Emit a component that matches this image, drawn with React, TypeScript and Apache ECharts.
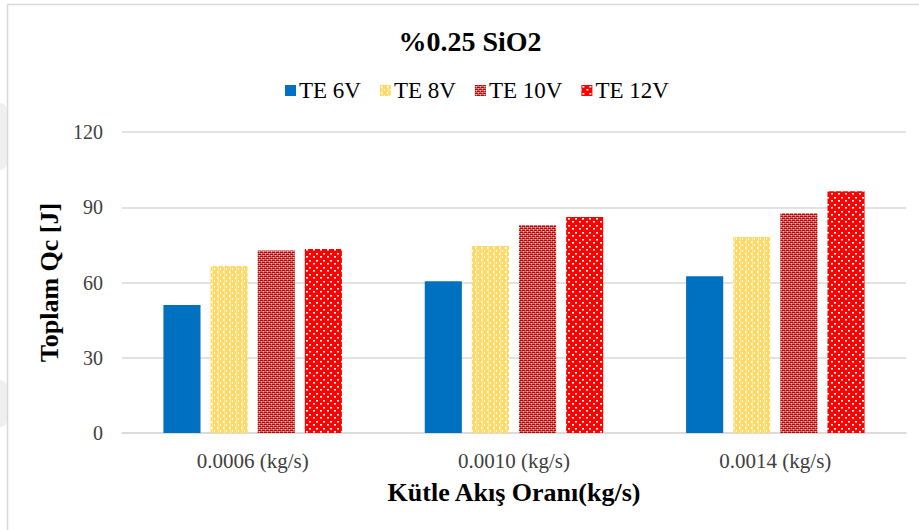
import React, { useEffect, useRef } from "react";
import * as echarts from "echarts";

const categories = ["0.0006 (kg/s)", "0.0010 (kg/s)", "0.0014 (kg/s)"];
const seriesNames = ["TE 6V", "TE 8V", "TE 10V", "TE 12V"];
const te6 = [51.0, 60.5, 62.5];
const te8 = [66.6, 74.6, 78.1];
const te10 = [72.8, 82.9, 87.6];
const te12 = [73.4, 86.1, 96.4];
const yTicks = { min: 0, max: 120, interval: 30 };

function makePattern(kind: string): any {
  const c = document.createElement("canvas");
  if (kind === "yellow") {
    c.width = 6; c.height = 6;
    const g = c.getContext("2d")!;
    g.fillStyle = "#FFD966"; g.fillRect(0, 0, 6, 6);
    g.fillStyle = "#FFFFFF";
    g.fillRect(1, 1, 1, 2); g.fillRect(4, 4, 1, 2);
    g.fillStyle = "#FFE9A8";
    g.fillRect(2, 0, 1, 6);
  } else if (kind === "pink") {
    c.width = 4; c.height = 4;
    const g = c.getContext("2d")!;
    g.fillStyle = "#D46A6A"; g.fillRect(0, 0, 4, 4);
    g.fillStyle = "#C00000";
    g.fillRect(0, 0, 1, 1); g.fillRect(2, 2, 1, 1); g.fillRect(2, 0, 1, 1); g.fillRect(0, 2, 1, 1);
    g.fillRect(1, 0, 1, 1); g.fillRect(3, 2, 1, 1);
    g.fillStyle = "#F2C8C8";
    g.fillRect(1, 1, 1, 1); g.fillRect(3, 3, 1, 1);
  } else {
    c.width = 7; c.height = 7;
    const g = c.getContext("2d")!;
    g.fillStyle = "#FF0000"; g.fillRect(0, 0, 7, 7);
    g.fillStyle = "#FFFFFF";
    g.fillRect(1, 1, 2, 1); g.fillRect(5, 4, 2, 1);
    g.fillStyle = "#FF9090";
    g.fillRect(1, 2, 2, 1); g.fillRect(5, 5, 2, 1);
  }
  return { image: c, repeat: "repeat" };
}

export default function App() {
  const ref = useRef<HTMLDivElement>(null);
  useEffect(() => {
    document.body.style.margin = "0";
    const chart = echarts.init(ref.current!, null, { renderer: "svg" });
    const serif = "'Liberation Serif', 'Times New Roman', serif";
    const colors = ["#0070C0", makePattern("yellow"), makePattern("pink"), makePattern("red")];
    const data = [te6, te8, te10, te12];
    chart.setOption({
      animation: false,
      backgroundColor: "#FFFFFF",
      title: {
        text: "%0.25 SiO2",
        left: 470,
        textAlign: "center",
        top: 27,
        padding: 0,
        textStyle: { fontFamily: serif, fontSize: 28, fontWeight: "bold", color: "#000000" },
      },
      legend: {
        data: seriesNames,
        left: 285,
        top: 79,
        padding: 0,
        itemWidth: 11,
        itemHeight: 11,
        itemGap: 19,
        icon: "rect",
        textStyle: { fontFamily: serif, fontSize: 23, color: "#000000", padding: [0, 0, 0, -2] },
      },
      grid: { left: 122, right: 13, top: 132, bottom: 97 },
      xAxis: {
        type: "category",
        data: categories,
        name: "Kütle Akış Oranı(kg/s)",
        nameLocation: "middle",
        nameGap: 46,
        nameTextStyle: { fontFamily: serif, fontSize: 26, fontWeight: "bold", color: "#000000" },
        axisLine: { lineStyle: { color: "#D9D9D9", width: 1.5 } },
        axisTick: { show: false },
        axisLabel: { fontFamily: serif, fontSize: 21, color: "#404040", margin: 17 },
      },
      yAxis: {
        type: "value",
        min: yTicks.min,
        max: yTicks.max,
        interval: yTicks.interval,
        name: "Toplam Qc [J]",
        nameLocation: "middle",
        nameGap: 60,
        nameTextStyle: { fontFamily: serif, fontSize: 26, fontWeight: "bold", color: "#000000" },
        axisLine: { show: false },
        axisTick: { show: false },
        splitLine: { lineStyle: { color: "#D9D9D9", width: 1.5 } },
        axisLabel: { fontFamily: serif, fontSize: 20, color: "#404040", margin: 19 },
      },
      series: seriesNames.map((n, i) => ({
        name: n,
        type: "bar",
        data: data[i],
        barWidth: "14.2%",
        barGap: "27%",
        itemStyle: { color: colors[i] },
      })),
      graphic: [
        {
          type: "rect",
          shape: { x: 0, y: 103, width: 7, height: 67, r: [0, 8, 8, 0] },
          style: { fill: "#EFEFEF" },
          silent: true,
        },
        {
          type: "rect",
          shape: { x: 0, y: 380, width: 7, height: 47, r: [0, 8, 8, 0] },
          style: { fill: "#EFEFEF" },
          silent: true,
        },
        {
          type: "rect",
          shape: { x: 7.5, y: 4.5, width: 1000, height: 1000 },
          style: { fill: "none", stroke: "#D9D9D9", lineWidth: 1.5 },
          silent: true,
        },
      ],
    });
    return () => chart.dispose();
  }, []);
  return <div ref={ref} style={{ width: 919, height: 530 }} />;
}
